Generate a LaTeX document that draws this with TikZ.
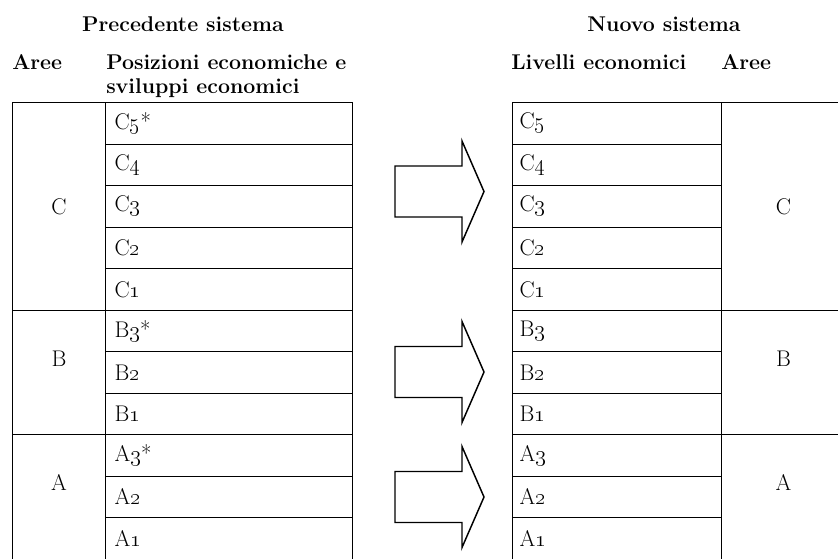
\documentclass[tikz,border=0pt]{standalone}

\tikzset{
	tab/.style={draw,line width=0.8pt,anchor=north west,inner ysep=0pt,minimum height=31.125pt,align=left},
	pcell/.style={tab,text width=171.75pt,inner xsep=6.75pt},
	ncell/.style={tab,text width=146.25pt,inner xsep=5.25pt},
	area/.style={tab,inner sep=0pt},
	head/.style={font=\fontsize{16}{18}\selectfont\bfseries,inner sep=0pt},
	blockarrow/.style={draw,line width=1.1pt,line join=miter}
}

\begin{document}
\begin{tikzpicture}[x=0.75pt,y=-0.75pt,font=\fontsize{17}{20}\selectfont]
	\useasboundingbox (0,0) rectangle (838,558);
	% intestazioni
	\node[head,anchor=base] (prec) at (183,31) {Precedente sistema};
	\node[head,anchor=base] (nuovo) at (664,31) {Nuovo sistema};
	\node[head,anchor=base west] (paree) at (12,69) {Aree};
	\node[head,anchor=base west,align=left] (ppos) at (106,93) {Posizioni economiche e\\sviluppi economici};
	\node[head,anchor=base west] (nliv) at (511,69) {Livelli economici};
	\node[head,anchor=base west] (naree) at (721,69) {Aree};
	% precedente sistema
	\foreach \lab/\nm [count=\i from 0] in {C\oldstylenums{5}*/C5,C\oldstylenums{4}/C4,C\oldstylenums{3}/C3,C\oldstylenums{2}/C2,C\oldstylenums{1}/C1,B\oldstylenums{3}*/B3,B\oldstylenums{2}/B2,B\oldstylenums{1}/B1,A\oldstylenums{3}*/A3,A\oldstylenums{2}/A2,A\oldstylenums{1}/A1}
		\node[pcell] (p\nm) at (105,102+41.5*\i) {\lab};
	\node[area,minimum width=69.75pt,minimum height=155.625pt] (pC) at (12,102) {};
	\node[area,minimum width=69.75pt,minimum height=93.375pt] (pB) at (12,309.5) {};
	\node[area,minimum width=69.75pt,minimum height=93.375pt] (pA) at (12,434) {};
	\node (pCl) at (pC.center) {C};
	\node (pBl) at ([yshift=10.3pt]pB.center) {B};
	\node (pAl) at ([yshift=10.6pt]pA.center) {A};
	% nuovo sistema
	\foreach \lab/\nm [count=\i from 0] in {C\oldstylenums{5}/C5,C\oldstylenums{4}/C4,C\oldstylenums{3}/C3,C\oldstylenums{2}/C2,C\oldstylenums{1}/C1,B\oldstylenums{3}/B3,B\oldstylenums{2}/B2,B\oldstylenums{1}/B1,A\oldstylenums{3}/A3,A\oldstylenums{2}/A2,A\oldstylenums{1}/A1}
		\node[ncell] (n\nm) at (512,102+41.5*\i) {\lab};
	\node[area,minimum width=93pt,minimum height=155.625pt] (nC) at (721,102) {};
	\node[area,minimum width=93pt,minimum height=93.375pt] (nB) at (721,309.5) {};
	\node[area,minimum width=93pt,minimum height=93.375pt] (nA) at (721,434) {};
	\node (nCl) at (nC.center) {C};
	\node (nBl) at ([yshift=10.3pt]nB.center) {B};
	\node (nAl) at ([yshift=10.6pt]nA.center) {A};
	% frecce
	\foreach \ay in {191.5,372,497}
		\draw[blockarrow] (395,\ay-25.5) -- (462,\ay-25.5) -- (462,\ay-50.5) -- (484,\ay)
			-- (462,\ay+50.5) -- (462,\ay+25.5) -- (395,\ay+25.5) -- cycle;
\end{tikzpicture}
\end{document}
